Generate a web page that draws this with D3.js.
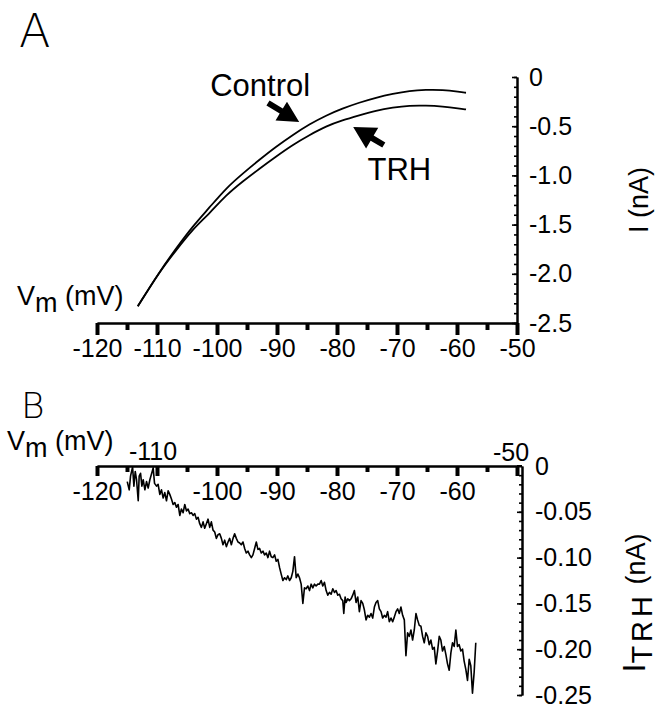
<!DOCTYPE html>
<html>
<head>
<meta charset="utf-8">
<title>TRH current, I-V ramps</title>
<script src="https://cdn.jsdelivr.net/npm/d3@7"></script>
<style>
    body { margin: 0; background: #fff; }
    svg { display: block; font-family: "Liberation Sans", Arial, sans-serif; }
    .axis text { font-size: 25px; fill: #000; }
    .axis path.domain { stroke: #000; stroke-width: 2; }
    .axis .tick line { stroke: #000; }
    .panel-letter { font-family: "DejaVu Sans", sans-serif; font-weight: 200; }
</style>
</head>
<body>
<div class="viz-container"></div>
<script>

//Panel A: ramp currents, control and in TRH (mV, nA)
var aVm      = [-113.2, -109.6, -106.8, -104.1, -101.3, -98.5, -95.7, -92.9, -90.2, -87.4, -84.6, -81.8, -79.1, -76.3, -73.5, -70.7, -67.9, -65.2, -62.4, -59.6, -58.5];
var aControl = [-2.33, -1.98, -1.74, -1.52, -1.33, -1.13, -0.98, -0.84, -0.71, -0.59, -0.48, -0.39, -0.32, -0.26, -0.21, -0.17, -0.14, -0.13, -0.13, -0.15, -0.16];
var aTRH     = [-2.33, -1.98, -1.76, -1.55, -1.39, -1.20, -1.06, -0.93, -0.81, -0.69, -0.59, -0.50, -0.44, -0.39, -0.34, -0.31, -0.29, -0.29, -0.30, -0.32, -0.33];

//Panel B: TRH sensitive current (mV, nA)
var bVm = [-114.96, -114.63, -114.41, -114.07, -113.85, -113.63, -113.41, -113.13, -112.97, -112.74, -112.52, -112.30, -112.02, -111.75, -111.47, -111.19, -110.80, -110.64, -110.41, -110.08,
           -109.81, -109.53, -109.25, -108.97, -108.70, -108.42, -108.14, -107.87, -107.59, -107.31, -107.03, -106.76, -106.48, -106.20, -105.93, -105.65, -105.37, -105.09, -104.82, -104.54,
           -104.26, -103.99, -103.71, -103.43, -103.15, -102.88, -102.60, -102.32, -102.05, -101.77, -101.49, -101.21, -100.94, -100.66, -100.38, -100.11, -99.83, -99.55, -99.27, -99.00,
           -98.72, -98.44, -98.16, -97.89, -97.61, -97.33, -97.06, -96.78, -96.50, -96.22, -95.95, -95.67, -95.39, -95.12, -94.84, -94.56, -94.28, -94.01, -93.73, -93.45,
           -93.18, -92.90, -92.62, -92.34, -92.07, -91.79, -91.51, -91.24, -90.96, -90.68, -90.40, -90.13, -89.85, -89.57, -89.30, -89.02, -88.74, -88.46, -88.19, -87.91,
           -87.63, -87.36, -87.08, -86.80, -86.52, -86.25, -85.97, -85.69, -85.42, -85.14, -84.86, -84.58, -84.31, -84.03, -83.75, -83.48, -83.20,
           -82.92, -82.64, -82.37, -82.09, -81.81, -81.53, -81.26, -80.98, -80.70, -80.42, -80.15, -79.87, -79.59, -79.32, -79.04, -78.87, -78.65, -78.48, -78.21, -77.93,
           -77.65, -77.38, -77.10, -76.82, -76.54, -76.27, -75.99, -75.71, -75.44, -75.16, -74.88, -74.60, -74.33, -74.05, -73.77, -73.50, -73.22, -72.94, -72.66, -72.39,
           -72.11, -71.83, -71.56, -71.28, -71.00, -70.72, -70.45, -70.17, -69.89, -69.62, -69.34, -69.06, -68.78, -68.51, -68.23, -67.95, -67.68, -67.40, -67.12, -66.84,
           -66.57, -66.29, -66.01, -65.73, -65.46, -65.18, -64.90, -64.63, -64.35, -64.07, -63.79, -63.52, -63.24, -62.96, -62.69, -62.41, -62.13, -61.85, -61.58, -61.30,
           -61.02, -60.75, -60.47, -60.19, -59.92, -59.64, -59.36, -59.08, -58.81, -58.53, -58.25, -57.97, -57.70, -57.42, -57.14, -56.87];
var bI  = [-0.017, -0.026, -0.011, -0.001, -0.022, -0.006, -0.015, -0.038, -0.011, -0.008, -0.022, -0.015, -0.026, -0.017, -0.024, -0.015, -0.006, -0.002, -0.019, -0.022,
           -0.020, -0.031, -0.026, -0.035, -0.029, -0.038, -0.027, -0.031, -0.036, -0.042, -0.040, -0.045, -0.042, -0.054, -0.047, -0.051, -0.042, -0.049, -0.047, -0.052,
           -0.051, -0.054, -0.052, -0.058, -0.056, -0.063, -0.067, -0.061, -0.068, -0.063, -0.058, -0.067, -0.061, -0.070, -0.072, -0.079, -0.075, -0.074, -0.079, -0.086,
           -0.081, -0.088, -0.083, -0.079, -0.086, -0.079, -0.074, -0.079, -0.083, -0.084, -0.086, -0.083, -0.090, -0.095, -0.093, -0.097, -0.100, -0.097, -0.090, -0.083,
           -0.091, -0.090, -0.095, -0.093, -0.097, -0.095, -0.100, -0.093, -0.099, -0.100, -0.097, -0.104, -0.102, -0.111, -0.118, -0.125, -0.122, -0.124, -0.120, -0.125,
           -0.122, -0.115, -0.099, -0.122, -0.118, -0.122, -0.129, -0.150, -0.133, -0.134, -0.131, -0.136, -0.129, -0.133, -0.129, -0.131, -0.129,
           -0.129, -0.125, -0.131, -0.127, -0.136, -0.141, -0.138, -0.140, -0.134, -0.138, -0.136, -0.141, -0.140, -0.145, -0.147, -0.161, -0.143, -0.149, -0.145, -0.147,
           -0.145, -0.141, -0.136, -0.149, -0.143, -0.159, -0.147, -0.150, -0.157, -0.168, -0.163, -0.165, -0.161, -0.166, -0.154, -0.149, -0.147, -0.156, -0.159, -0.166,
           -0.163, -0.165, -0.159, -0.170, -0.166, -0.170, -0.165, -0.159, -0.156, -0.161, -0.154, -0.163, -0.168, -0.207, -0.182, -0.186, -0.179, -0.190, -0.179, -0.161,
           -0.168, -0.174, -0.175, -0.186, -0.193, -0.182, -0.186, -0.195, -0.190, -0.200, -0.198, -0.216, -0.202, -0.186, -0.190, -0.202, -0.197, -0.206, -0.216, -0.223,
           -0.204, -0.193, -0.197, -0.179, -0.197, -0.195, -0.202, -0.200, -0.213, -0.222, -0.234, -0.211, -0.218, -0.248, -0.225, -0.193];

//Tick values and labels
var xMajor = [-120, -110, -100, -90, -80, -70, -60, -50];
var xMinor = [-115, -105, -95, -85, -75, -65, -55];
var aXLabels = ["-120", "-110", "-100", "-90", "-80", "-70", "-60", "-50"];
var bXLabels = ["-120", "", "-100", "-90", "-80", "-70", "-60", ""];
var aYMajor = [0, -0.5, -1.0, -1.5, -2.0, -2.5];
var aYLabels = ["0", "-0.5", "-1.0", "-1.5", "-2.0", "-2.5"];
var bYMajor = [0, -0.05, -0.10, -0.15, -0.20, -0.25];
var bYLabels = ["0", "-0.05", "-0.10", "-0.15", "-0.20", "-0.25"];

//Basic sizing
var width = 658;
var height = 709;

var svg = d3.select(".viz-container")
            .append("svg")
            .attr("width", width)
            .attr("height", height);

svg.append("rect").attr("width", width).attr("height", height).attr("fill", "#fff");

/**********************
PANEL A
**********************/
var xA = d3.scaleLinear().domain([-120, -50]).range([97, 517]);
var yA = d3.scaleLinear().domain([0, -2.5]).range([77, 323]);

var gAx = svg.append("g").attr("class", "axis").attr("transform", "translate(0," + yA(-2.5) + ")");
gAx.append("g").call(d3.axisBottom(xA).tickValues(xMinor).tickSize(7).tickSizeOuter(0).tickFormat(""));
gAx.append("g").call(d3.axisBottom(xA).tickValues(xMajor).tickSize(12).tickSizeOuter(0).tickPadding(4)
    .tickFormat(function(d, i) { return aXLabels[i]; }));
gAx.selectAll(".tick line").attr("stroke-width", 4);

var gAy = svg.append("g").attr("class", "axis").attr("transform", "translate(" + xA(-50) + ",0)");
gAy.append("g").call(d3.axisRight(yA).tickValues(d3.range(0, -2.51, -0.1)).tickSize(-3).tickSizeOuter(0).tickFormat(""));
gAy.append("g").call(d3.axisRight(yA).tickValues(aYMajor).tickSize(-5).tickSizeOuter(0).tickPadding(12)
    .tickFormat(function(d, i) { return aYLabels[i]; }));
gAy.selectAll(".tick line").attr("stroke-width", 1.6);

var lineA = function(ys) {
    return d3.line()
        .x(function(d, i) { return xA(aVm[i]); })
        .y(function(d) { return yA(d); })
        .curve(d3.curveBasis)(ys);
};

svg.append("path").attr("d", lineA(aControl)).attr("fill", "none").attr("stroke", "#000").attr("stroke-width", 1.8);
svg.append("path").attr("d", lineA(aTRH)).attr("fill", "none").attr("stroke", "#000").attr("stroke-width", 1.8);

// MARK: filled arrow from tail to tip (pixel coords from scales)
function arrow(x0, y0, x1, y1, headLen, headW, shaftW) {
    var dx = x1 - x0, dy = y1 - y0, len = Math.sqrt(dx * dx + dy * dy);
    var ux = dx / len, uy = dy / len, nx = -uy, ny = ux;
    var bx = x1 - ux * headLen, by = y1 - uy * headLen;
    var pts = [
        [x0 + nx * shaftW / 2, y0 + ny * shaftW / 2],
        [bx + nx * shaftW / 2, by + ny * shaftW / 2],
        [bx + nx * headW / 2, by + ny * headW / 2],
        [x1, y1],
        [bx - nx * headW / 2, by - ny * headW / 2],
        [bx - nx * shaftW / 2, by - ny * shaftW / 2],
        [x0 - nx * shaftW / 2, y0 - ny * shaftW / 2]
    ];
    svg.append("path").attr("d", "M" + pts.join("L") + "Z").attr("fill", "#000");
}

arrow(xA(-91.5), yA(-0.264), xA(-86.3), yA(-0.457), 21, 22, 6);
arrow(xA(-72.2), yA(-0.691), xA(-77.3), yA(-0.508), 22, 24, 6);

svg.append("text").attr("x", xA(-92.8)).attr("y", yA(-0.193)).attr("text-anchor", "middle")
    .attr("font-size", 31).text("Control");
svg.append("text").attr("x", xA(-69.6)).attr("y", yA(-1.05)).attr("text-anchor", "middle")
    .attr("font-size", 31).text("TRH");

var vmA = svg.append("text").attr("x", 17).attr("y", 305).attr("font-size", 27);
vmA.append("tspan").text("V");
vmA.append("tspan").attr("dy", 7).text("m");
vmA.append("tspan").attr("dy", -7).text(" (mV)");

svg.append("text").attr("transform", "translate(648,200) rotate(-90)").attr("text-anchor", "middle")
    .attr("font-size", 27).text("I (nA)");

svg.append("text").attr("class", "panel-letter").attr("x", 19).attr("y", 47).attr("font-size", 46).text("A");

/**********************
PANEL B
**********************/
var xB = d3.scaleLinear().domain([-120, -50]).range([97, 517]);
var yB = d3.scaleLinear().domain([0, -0.25]).range([466, 695]);
var bAxisX = xB(-50) + 5;

var gBx = svg.append("g").attr("class", "axis").attr("transform", "translate(0," + yB(0) + ")");
gBx.append("g").call(d3.axisBottom(xB).tickValues(xMinor).tickSize(6).tickSizeOuter(0).tickFormat(""));
gBx.append("g").call(d3.axisBottom(xB).tickValues(xMajor).tickSize(10).tickSizeOuter(0).tickPadding(6)
    .tickFormat(function(d, i) { return bXLabels[i]; }));
gBx.selectAll(".tick line").attr("stroke-width", 4);
gBx.append("line").attr("x1", xB(-50)).attr("x2", bAxisX).attr("stroke", "#000").attr("stroke-width", 2);

//labels sitting above the axis
svg.append("text").attr("x", xB(-110) - 4).attr("y", yB(0) - 6).attr("text-anchor", "middle")
    .attr("font-size", 25).text("-110");
svg.append("text").attr("x", xB(-50) - 6).attr("y", yB(0) - 5).attr("text-anchor", "middle")
    .attr("font-size", 25).text("-50");

var gBy = svg.append("g").attr("class", "axis").attr("transform", "translate(" + bAxisX + ",0)");
gBy.append("g").call(d3.axisRight(yB).tickValues(d3.range(0, -0.2501, -0.01)).tickSize(-3).tickSizeOuter(0).tickFormat(""));
gBy.append("g").call(d3.axisRight(yB).tickValues(bYMajor).tickSize(-5).tickSizeOuter(0).tickPadding(13)
    .tickFormat(function(d, i) { return bYLabels[i]; }));
gBy.selectAll(".tick line").attr("stroke-width", 1.6);

var lineB = d3.line()
    .x(function(d, i) { return xB(bVm[i]); })
    .y(function(d) { return yB(d); });

svg.append("path").attr("d", lineB(bI)).attr("fill", "none").attr("stroke", "#000")
    .attr("stroke-width", 1.6).attr("stroke-linejoin", "round");

var vmB = svg.append("text").attr("x", 7).attr("y", 450).attr("font-size", 27);
vmB.append("tspan").text("V");
vmB.append("tspan").attr("dy", 7).text("m");
vmB.append("tspan").attr("dy", -7).text(" (mV)");

var iB = svg.append("text").attr("transform", "translate(645,603) rotate(-90)").attr("text-anchor", "middle");
iB.append("tspan").attr("font-size", 32).text("I");
iB.append("tspan").attr("font-size", 29).attr("dy", 7).attr("letter-spacing", 4).text("TRH");
iB.append("tspan").attr("font-size", 27).attr("dy", -7).text(" (nA)");

svg.append("text").attr("class", "panel-letter").attr("x", 21).attr("y", 418).attr("font-size", 36).text("B");

</script>
</body>
</html>
